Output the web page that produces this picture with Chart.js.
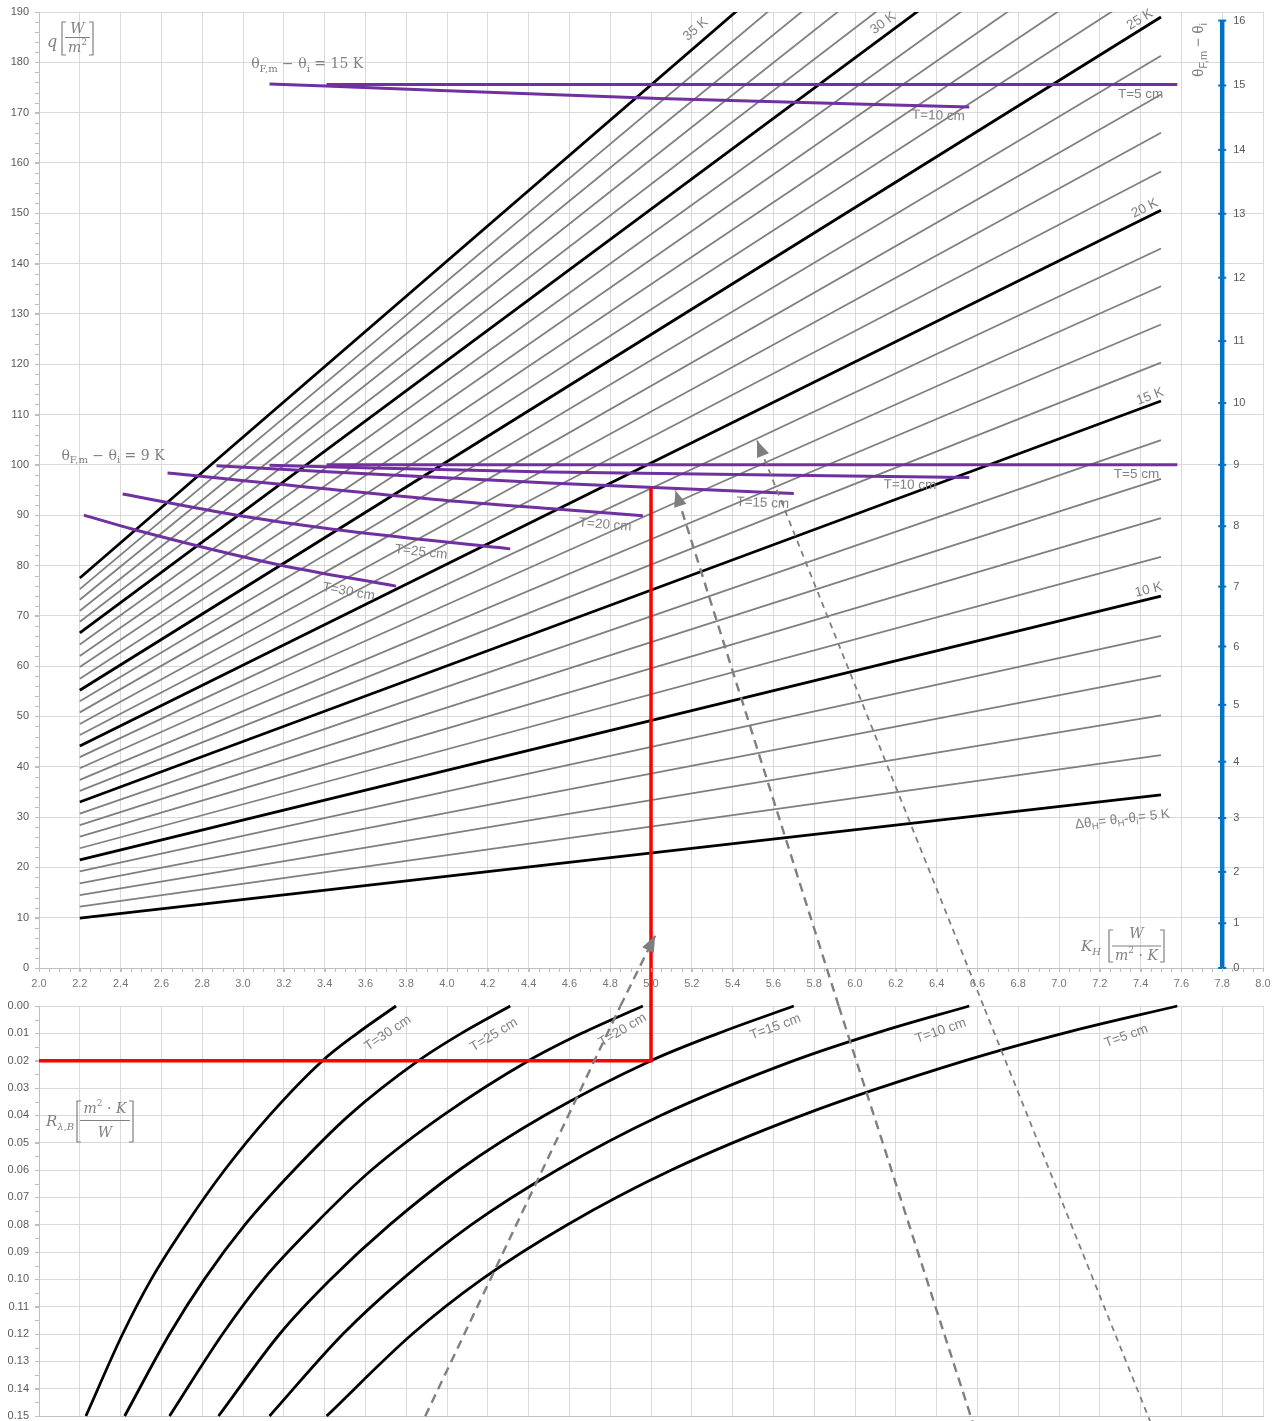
<!DOCTYPE html>
<html>
<head>
<meta charset="utf-8">
<title>Floor heating design diagram</title>
<script src="https://cdn.jsdelivr.net/npm/chart.js@4.4.1/dist/chart.umd.min.js"></script>
<style>
  html, body { margin: 0; padding: 0; background: #ffffff; }
  #wrap { position: relative; width: 1272px; height: 1421px; overflow: hidden; }
  #upper { position: absolute; left: 0; top: 0; }
  #lower { position: absolute; left: 0; top: 990px; }
</style>
</head>
<body>
<div id="wrap">
  <canvas id="upper" width="1272" height="1006"></canvas>
  <canvas id="lower" width="1272" height="440"></canvas>
</div>
<script>
// ---------------- axis ranges ----------------
const kMin = 2.0, kMax = 8.0, kStep = 0.2;          // K_H [W/(m²·K)]
const qMin = 0, qMax = 190, qStep = 10;             // q [W/m²]
const rMin = 0, rMax = 0.15, rStep = 0.01;          // R_λ,B [m²·K/W]

// ---------------- upper panel: q over K_H for each Δθ_H ----------------
const excessTemp = [5, 6, 7, 8, 9, 10, 11, 12, 13, 14, 15, 16, 17, 18, 19, 20,
                    21, 22, 23, 24, 25, 26, 27, 28, 29, 30, 31, 32, 33, 34, 35];
const lineStartK = 2.2;
const lineEndK = 7.5;
const qLineStart = [9.9, 12.2, 14.5, 16.8, 19.2, 21.5, 23.8, 26.1, 28.4, 30.7, 33.0, 35.2, 37.4, 39.7, 41.9, 44.1,
                    46.3, 48.5, 50.8, 53.0, 55.2, 57.5, 59.8, 62.0, 64.3, 66.6, 68.8, 71.0, 73.2, 75.3, 77.5];
const qLineEnd = [34.4, 42.3, 50.2, 58.1, 66.0, 73.9, 81.7, 89.4, 97.2, 104.9, 112.7, 120.3, 127.9, 135.5, 143.0, 150.6,
                  158.3, 166.0, 173.6, 181.3, 189.0, 196.4, 203.8, 211.2, 218.6, 226.0, 233.4, 240.8, 248.2, 255.6, 263.0];
const boldTemps = [5, 10, 15, 20, 25, 30, 35];

// Cover thickness T [cm]
const coverCm = [5, 10, 15, 20, 25, 30];

// θF,m − θi = 9 K : q over K_H for each cover thickness
const k9 = [[3.41, 7.58], [3.13, 4.50, 6.56], [2.87, 4.50, 5.70], [2.63, 4.06, 4.50, 4.96],
            [2.41, 2.97, 3.44, 4.31], [2.22, 2.46, 3.18, 3.75]];
const q9 = [[100.0, 100.0], [99.9, 98.6, 97.5], [99.8, 96.4, 94.3], [98.4, 92.7, 91.3, 89.9],
            [94.2, 90.0, 87.2, 83.3], [90.0, 87.2, 80.1, 75.9]];
// θF,m − θi = 15 K : T = 5 cm and T = 10 cm
const k15 = [[3.41, 7.58], [3.13, 3.97, 5.04, 6.56]];
const q15 = [[175.6, 175.6], [175.7, 174.4, 172.8, 171.1]];

// Right-hand scale θF,m − θi [K] and the q it corresponds to
const tempAxisK = 7.8;
const tempDiffTicks = [0, 1, 2, 3, 4, 5, 6, 7, 8, 9, 10, 11, 12, 13, 14, 15, 16];
const tempDiffQ = [0, 8.9, 19.1, 29.8, 41.0, 52.3, 63.9, 75.8, 87.8, 100.0, 112.3, 124.6, 137.2, 149.9, 162.6, 175.4, 188.3];

// ---------------- lower panel: K_H over R_λ,B for each cover thickness ----------------
const resistance = [0, 0.01, 0.02, 0.04, 0.06, 0.08, 0.10, 0.12, 0.15];
const kByCover = [
  [7.58, 7.02, 6.54, 5.74, 5.10, 4.59, 4.17, 3.83, 3.41],   // T = 5 cm
  [6.56, 6.10, 5.70, 5.05, 4.54, 4.12, 3.78, 3.49, 3.13],   // T = 10 cm
  [5.70, 5.33, 5.00, 4.48, 4.06, 3.72, 3.43, 3.18, 2.88],   // T = 15 cm
  [4.96, 4.66, 4.40, 3.98, 3.63, 3.35, 3.10, 2.90, 2.64],   // T = 20 cm
  [4.31, 4.07, 3.86, 3.52, 3.25, 3.01, 2.81, 2.64, 2.42],   // T = 25 cm
  [3.75, 3.56, 3.39, 3.13, 2.91, 2.72, 2.55, 2.41, 2.23]    // T = 30 cm
];

// Worked example: R = 0.02 → T = 15 cm → K_H = 5.0 → q at 9 K
const readR = 0.02, readK = 5.0, readQ = 95.5;

// Dashed guide arrows, running from the lower panel into the upper one
const guideTailR = 0.16;
const guideTailK = [3.83, 6.61, 7.49];
const guideMidK = [4.85, 5.92, 6.63];     // where each guide meets R = 0
const guideTipK = [5.02, 5.12, 5.52];
const guideTipQ = [6.4, 94.9, 104.8];
const guideWidth = [2.4, 2.4, 1.8];
const guideDash = [[9, 6], [9, 6], [6, 5]];

// q level of the lower panel's top edge, seen on the upper panel's scale
const GAP_Q = -7.55;

// ---------------- styling ----------------
const SANS = "'Liberation Sans', Arial, sans-serif";
const SERIF = "'DejaVu Serif', 'Liberation Serif', serif";
const GRID = '#d9d9d9', AXIS = '#bfbfbf', TICK_TEXT = '#595959', X_TEXT = '#767676', NOTE = '#808080';
const BLACK = '#000000', GRAY = '#7f7f7f', PURPLE = '#7030a0', RED = '#ff0000', BLUE = '#0070c0', GUIDE = '#7f7f7f';

Chart.defaults.font.family = SANS;
Chart.defaults.font.size = 11;

// Label placement along lines
const boldLabelPos = { 35: { k: 5.26, d: -13 }, 30: { k: 6.17, d: -11 }, 25: { k: 7.42, d: -9 },
                       20: { k: 7.44, d: -9 }, 15: { k: 7.46, d: -8 }, 10: { k: 7.45, d: -9 }, 5: { k: 7.30, d: 20 } };
const p15LabelPos = [{ k: 7.40, d: 10 }, { k: 6.41, d: 9.5 }];
const p9LabelPos = [{ k: 7.38, d: 9 }, { k: 6.27, d: 8.5 }, { k: 5.55, d: 11 }, { k: 4.78, d: 12 }, { k: 3.88, d: 13 }, { k: 3.53, d: 14 }];
const curveLabelPos = [{ k: 7.33, r: 0.0110, rot: -20 }, { k: 6.42, r: 0.0091, rot: -19 }, { k: 5.61, r: 0.0077, rot: -20 },
                       { k: 4.86, r: 0.0088, rot: -31 }, { k: 4.23, r: 0.0106, rot: -31 }, { k: 3.71, r: 0.0099, rot: -34 }];

// ---------------- helpers ----------------
function seg(points, color, width, extra) {
  return Object.assign({
    data: points, borderColor: color, backgroundColor: color, borderWidth: width,
    pointRadius: 0, pointHoverRadius: 0, fill: false, tension: 0
  }, extra || {});
}
function fontCss(size, family, italic) { return (italic ? 'italic ' : '') + size + 'px ' + family; }

function drawRuns(ctx, runs, x, y, align) {
  ctx.textBaseline = 'middle';
  ctx.textAlign = 'left';
  let w = 0;
  for (const r of runs) { ctx.font = r.f; w += ctx.measureText(r.t).width; }
  let cx = align === 'left' ? x : align === 'right' ? x - w : x - w / 2;
  for (const r of runs) {
    ctx.font = r.f;
    ctx.fillText(r.t, cx, y + (r.dy || 0));
    cx += ctx.measureText(r.t).width;
  }
}
function plain(text, size, family) { return [{ t: text, f: fontCss(size, family || SANS) }]; }
function thetaRuns(value, size, family) {
  const sub = Math.round(size * 0.7);
  const runs = [
    { t: 'θ', f: fontCss(size, family) },
    { t: 'F,m', f: fontCss(sub, family), dy: size * 0.3 },
    { t: ' − θ', f: fontCss(size, family) },
    { t: 'i', f: fontCss(sub, family), dy: size * 0.3 }
  ];
  if (value !== null) runs.push({ t: ' = ' + value + ' K', f: fontCss(size, family) });
  return runs;
}

function pointOnLine(chart, dsIndex, k) {
  const pts = chart.getDatasetMeta(dsIndex).data;
  const px = chart.scales.x.getPixelForValue(k);
  let i = 0;
  while (i < pts.length - 2 && pts[i + 1].x < px) i++;
  const a = pts[i], b = pts[i + 1];
  const t = (px - a.x) / (b.x - a.x);
  return { x: px, y: a.y + t * (b.y - a.y), angle: Math.atan2(b.y - a.y, b.x - a.x) };
}
function labelAlong(chart, dsIndex, k, dist, runs) {
  const p = pointOnLine(chart, dsIndex, k);
  const ctx = chart.ctx;
  const cx = p.x - Math.sin(p.angle) * dist, cy = p.y + Math.cos(p.angle) * dist;
  ctx.save();
  ctx.translate(cx, cy);
  ctx.rotate(p.angle);
  ctx.fillStyle = NOTE;
  drawRuns(ctx, runs, 0, 0);
  ctx.restore();
}

function minorTicks(chart, axis, from, to, step, len) {
  const ctx = chart.ctx, s = chart.scales[axis], ca = chart.chartArea;
  const n = Math.round((to - from) / step);
  ctx.save();
  ctx.strokeStyle = AXIS;
  ctx.lineWidth = 1;
  ctx.beginPath();
  for (let i = 0; i <= n; i++) {
    const p = Math.round(s.getPixelForValue(from + i * step)) + 0.5;
    if (axis === 'x') { ctx.moveTo(p, ca.bottom); ctx.lineTo(p, ca.bottom + len); }
    else { ctx.moveTo(ca.left - len, p); ctx.lineTo(ca.left, p); }
  }
  ctx.stroke();
  ctx.restore();
}

function bracketFraction(ctx, x0, x1, yTop, yBot, yLine, numRuns, numY, denRuns, denY) {
  ctx.save();
  ctx.strokeStyle = NOTE;
  ctx.fillStyle = NOTE;
  ctx.lineWidth = 1.2;
  ctx.beginPath();
  ctx.moveTo(x0 + 4, yTop); ctx.lineTo(x0, yTop); ctx.lineTo(x0, yBot); ctx.lineTo(x0 + 4, yBot);
  ctx.moveTo(x1 - 4, yTop); ctx.lineTo(x1, yTop); ctx.lineTo(x1, yBot); ctx.lineTo(x1 - 4, yBot);
  ctx.moveTo(x0 + 3, yLine); ctx.lineTo(x1 - 3, yLine);
  ctx.stroke();
  const xm = (x0 + x1) / 2;
  drawRuns(ctx, numRuns, xm, numY);
  drawRuns(ctx, denRuns, xm, denY);
  ctx.restore();
}

const arrowHeads = {
  id: 'arrowHeads',
  afterDatasetsDraw(chart) {
    const ctx = chart.ctx;
    chart.data.datasets.forEach((ds, i) => {
      if (!ds.arrowHead) return;
      const pts = chart.getDatasetMeta(i).data;
      const a = pts[pts.length - 2], b = pts[pts.length - 1];
      const ang = Math.atan2(b.y - a.y, b.x - a.x);
      ctx.save();
      ctx.translate(b.x, b.y);
      ctx.rotate(ang);
      ctx.beginPath();
      ctx.moveTo(0, 0); ctx.lineTo(-16, -6.5); ctx.lineTo(-16, 6.5); ctx.closePath();
      ctx.fillStyle = ds.borderColor;
      ctx.fill();
      ctx.restore();
    });
  }
};

function xScale(showLabels, height) {
  return {
    type: 'linear', min: kMin, max: kMax,
    ticks: { display: showLabels, stepSize: kStep, autoSkip: false, maxRotation: 0, minRotation: 0,
             color: X_TEXT, padding: 5, callback: v => Number(v).toFixed(1) },
    grid: { color: GRID, tickColor: AXIS, tickLength: 4, drawTicks: showLabels },
    border: { color: AXIS },
    afterFit: s => { s.height = height; s.paddingLeft = 0; s.paddingRight = 0; }
  };
}
function yFit(s) { s.width = 39; s.paddingTop = 0; s.paddingBottom = 0; }

// ---------------- upper panel datasets (first = drawn on top) ----------------
const upperSets = [];
const idx = { p15: [], p9: [], bold: {} };
guideTipK.forEach((k, i) => upperSets.push(seg([{ x: guideMidK[i], y: GAP_Q }, { x: k, y: guideTipQ[i] }],
  GUIDE, guideWidth[i], { borderDash: guideDash[i], clip: false, arrowHead: true })));
upperSets.push(seg([{ x: readK, y: GAP_Q }, { x: readK, y: readQ }], RED, 3.5, { clip: false }));
upperSets.push({
  data: tempDiffQ.map(q => ({ x: tempAxisK, y: q })), showLine: false, pointStyle: 'line',
  pointRadius: 4, pointHoverRadius: 4, pointBorderWidth: 2, pointBorderColor: BLUE, borderColor: BLUE, clip: false
});
upperSets.push(seg([{ x: tempAxisK, y: 0 }, { x: tempAxisK, y: tempDiffQ[tempDiffQ.length - 1] }], BLUE, 4.5));
k15.forEach((ks, i) => {
  idx.p15.push(upperSets.length);
  upperSets.push(seg(ks.map((k, j) => ({ x: k, y: q15[i][j] })), PURPLE, 3, { cubicInterpolationMode: 'monotone' }));
});
k9.forEach((ks, i) => {
  idx.p9.push(upperSets.length);
  upperSets.push(seg(ks.map((k, j) => ({ x: k, y: q9[i][j] })), PURPLE, 3, { cubicInterpolationMode: 'monotone' }));
});
excessTemp.forEach((t, i) => {
  if (!boldTemps.includes(t)) return;
  idx.bold[t] = upperSets.length;
  upperSets.push(seg([{ x: lineStartK, y: qLineStart[i] }, { x: lineEndK, y: qLineEnd[i] }], BLACK, 2.8));
});
excessTemp.forEach((t, i) => {
  if (boldTemps.includes(t)) return;
  upperSets.push(seg([{ x: lineStartK, y: qLineStart[i] }, { x: lineEndK, y: qLineEnd[i] }], GRAY, 1.8));
});

const upperDecor = {
  id: 'upperDecor',
  afterDraw(chart) {
    const ctx = chart.ctx, ca = chart.chartArea, xs = chart.scales.x, ys = chart.scales.y;
    minorTicks(chart, 'x', kMin, kMax, 0.05, 4);
    minorTicks(chart, 'y', qMin, qMax, 2, 4);

    // right-hand θF,m − θi scale numbers
    ctx.save();
    ctx.fillStyle = TICK_TEXT;
    ctx.font = fontCss(11, SANS);
    ctx.textBaseline = 'middle';
    ctx.textAlign = 'left';
    const ax = xs.getPixelForValue(tempAxisK);
    tempDiffTicks.forEach((v, i) => ctx.fillText(String(v), ax + 11, ys.getPixelForValue(tempDiffQ[i])));
    ctx.restore();

    // labels of the bold Δθ_H lines
    boldTemps.forEach(t => {
      const pos = boldLabelPos[t];
      let runs;
      if (t === 5) {
        const f = fontCss(13.5, SANS), s = fontCss(9.5, SANS);
        runs = [{ t: 'Δθ', f }, { t: 'H', f: s, dy: 4 }, { t: '= θ', f }, { t: 'H', f: s, dy: 4 },
                { t: '-θ', f }, { t: 'i', f: s, dy: 4 }, { t: '= 5 K', f }];
      } else {
        runs = plain(t + ' K', 13.5);
      }
      labelAlong(chart, idx.bold[t], pos.k, pos.d, runs);
    });

    // cover thickness labels on the purple lines
    p15LabelPos.forEach((p, i) => labelAlong(chart, idx.p15[i], p.k, p.d, plain('T=' + coverCm[i] + ' cm', 13.5)));
    p9LabelPos.forEach((p, i) => labelAlong(chart, idx.p9[i], p.k, p.d, plain('T=' + coverCm[i] + ' cm', 13.5)));

    // group titles
    ctx.save();
    ctx.fillStyle = NOTE;
    drawRuns(ctx, thetaRuns(15, 14, SERIF), xs.getPixelForValue(3.04), ys.getPixelForValue(179.5), 'left');
    drawRuns(ctx, thetaRuns(9, 14, SERIF), xs.getPixelForValue(2.11), ys.getPixelForValue(101.7), 'left');

    // right-hand axis title
    ctx.save();
    ctx.translate(ca.right - 64, ca.top + 38);
    ctx.rotate(-Math.PI / 2);
    drawRuns(ctx, thetaRuns(null, 15, SANS), 0, 0);
    ctx.restore();

    // q axis title
    drawRuns(ctx, [{ t: 'q', f: fontCss(16, SERIF, true) }], ca.left + 13, ca.top + 31);
    bracketFraction(ctx, ca.left + 23, ca.left + 54, ca.top + 10, ca.top + 43, ca.top + 25.5,
      [{ t: 'W', f: fontCss(14, SERIF, true) }], ca.top + 17.5,
      [{ t: 'm', f: fontCss(14, SERIF, true) }, { t: '2', f: fontCss(9, SERIF), dy: -5 }], ca.top + 36);

    // K_H axis title
    drawRuns(ctx, [{ t: 'K', f: fontCss(15, SERIF, true) }, { t: 'H', f: fontCss(10, SERIF, true), dy: 5 }],
      ca.right - 172, ca.bottom - 21);
    bracketFraction(ctx, ca.right - 154, ca.right - 99, ca.bottom - 38, ca.bottom - 6, ca.bottom - 22,
      [{ t: 'W', f: fontCss(14, SERIF, true) }], ca.bottom - 33.5,
      [{ t: 'm', f: fontCss(14, SERIF, true) }, { t: '2', f: fontCss(9, SERIF), dy: -5 },
       { t: ' · ', f: fontCss(14, SERIF) }, { t: 'K', f: fontCss(14, SERIF, true) }], ca.bottom - 12);
    ctx.restore();
  }
};

new Chart(document.getElementById('upper'), {
  type: 'line',
  data: { datasets: upperSets },
  options: {
    responsive: false, animation: false, devicePixelRatio: 1, events: [],
    layout: { padding: { top: 12, right: 9, left: 0, bottom: 0 } },
    plugins: { legend: { display: false }, tooltip: { enabled: false } },
    scales: {
      x: xScale(true, 38),
      y: {
        type: 'linear', min: qMin, max: qMax,
        ticks: { stepSize: qStep, color: TICK_TEXT, padding: 6 },
        grid: { color: GRID, tickColor: AXIS, tickLength: 4 },
        border: { color: AXIS },
        afterFit: yFit
      }
    }
  },
  plugins: [arrowHeads, upperDecor]
});

// ---------------- lower panel datasets ----------------
const lowerSets = [];
guideTailK.forEach((k, i) => lowerSets.push(seg([{ x: k, y: guideTailR }, { x: guideMidK[i], y: 0 }],
  GUIDE, guideWidth[i], { borderDash: guideDash[i], clip: false })));
lowerSets.push(seg([{ x: kMin, y: readR }, { x: readK, y: readR }, { x: readK, y: 0 }], RED, 3.5));
kByCover.forEach(ks => {
  const pts = resistance.map((r, j) => ({ x: ks[j], y: r })).reverse();
  lowerSets.push(seg(pts, BLACK, 2.8, { cubicInterpolationMode: 'monotone', clip: false }));
});

const lowerDecor = {
  id: 'lowerDecor',
  afterDraw(chart) {
    const ctx = chart.ctx, ca = chart.chartArea, xs = chart.scales.x, ys = chart.scales.y;
    minorTicks(chart, 'y', rMin, rMax, 0.005, 4);

    curveLabelPos.forEach((p, i) => {
      ctx.save();
      ctx.translate(xs.getPixelForValue(p.k), ys.getPixelForValue(p.r));
      ctx.rotate(p.rot * Math.PI / 180);
      ctx.fillStyle = NOTE;
      drawRuns(ctx, plain('T=' + coverCm[i] + ' cm', 13.5), 0, 0);
      ctx.restore();
    });

    // R_λ,B axis title
    ctx.save();
    ctx.fillStyle = NOTE;
    drawRuns(ctx, [{ t: 'R', f: fontCss(15, SERIF, true) }, { t: 'λ,B', f: fontCss(10, SERIF, true), dy: 5 }],
      ca.left + 21, ca.top + 116);
    bracketFraction(ctx, ca.left + 38, ca.left + 94, ca.top + 95, ca.top + 136, ca.top + 114.5,
      [{ t: 'm', f: fontCss(14, SERIF, true) }, { t: '2', f: fontCss(9, SERIF), dy: -5 },
       { t: ' · ', f: fontCss(14, SERIF) }, { t: 'K', f: fontCss(14, SERIF, true) }], ca.top + 103,
      [{ t: 'W', f: fontCss(14, SERIF, true) }], ca.top + 127);
    ctx.restore();
  }
};

new Chart(document.getElementById('lower'), {
  type: 'line',
  data: { datasets: lowerSets },
  options: {
    responsive: false, animation: false, devicePixelRatio: 1, events: [],
    layout: { padding: { top: 16, right: 9, left: 0, bottom: 0 } },
    plugins: { legend: { display: false }, tooltip: { enabled: false } },
    scales: {
      x: xScale(false, 14),
      y: {
        type: 'linear', min: rMin, max: rMax, reverse: true,
        ticks: { stepSize: rStep, color: TICK_TEXT, padding: 6, callback: v => Number(v).toFixed(2) },
        grid: { color: GRID, tickColor: AXIS, tickLength: 4 },
        border: { color: AXIS },
        afterFit: yFit
      }
    }
  },
  plugins: [lowerDecor]
});
</script>
</body>
</html>
